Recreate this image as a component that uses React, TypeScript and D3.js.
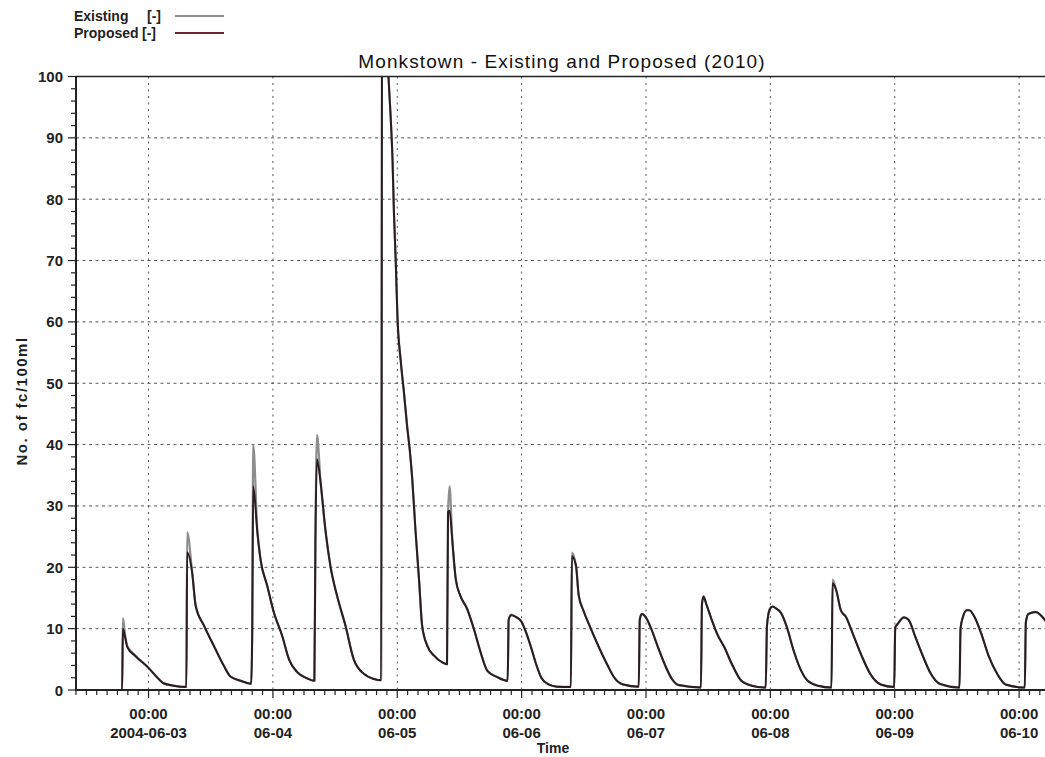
import React from "react";
import * as d3 from "d3";

// ---- data (hours from 2004-06-03 00:00, values in No. of fc/100ml) ----
const hours = [
  -14, -5.1,
  -4.95, -4.5, -4.1, -2.5, 0, 1.4, 2.9, 4.8, 7.3,
  7.45, 8.4, 9.1, 10.7, 12.6, 14.5, 15.8, 17.8, 19.8,
  20.0, 20.2, 21.0, 21.6, 22.9, 24.2, 25.8, 27.1, 28.7, 30.6, 32.0,
  32.2, 32.5, 33.2, 34.2, 35.1, 36.4, 38.0, 39.6, 41.6, 43.5, 44.9,
  45.1, 46.3, 46.75, 47.1, 47.35, 47.7, 48.05, 48.65, 49.3, 49.9, 50.4, 50.9, 51.5, 52.2, 52.8, 53.8, 55.1, 56.7, 57.6,
  57.8, 58.1, 58.6, 59.3, 60.2, 61.5, 62.8, 64.1, 65.4, 67.3, 69.3,
  69.5, 70.0, 71.1, 72.0, 72.8, 73.8, 74.8, 75.8, 77.2, 78.8, 81.5,
  81.7, 82.5, 83.0, 83.9, 85.2, 86.9, 88.6, 89.9, 91.6, 94.6,
  94.8, 95.2, 96.0, 97.0, 98.3, 99.7, 101.0, 102.3, 106.6,
  106.8, 107.1, 107.6, 108.7, 109.7, 111.1, 112.7, 114.4, 116.4, 119.1,
  119.35, 119.9, 120.4, 121.1, 122.1, 123.2, 124.5, 125.8, 127.2, 129.2, 131.8,
  132.0, 132.7, 133.6, 134.6, 135.9, 137.6, 139.3, 141.3, 143.9,
  144.1, 144.6, 145.8, 146.7, 148.0, 149.4, 151.0, 152.7, 156.5,
  156.7, 157.2, 157.9, 158.4, 159.4, 160.7, 162.1, 163.8, 165.4, 169.1,
  169.3, 169.8, 171.2, 172.5, 173.5,
];

const proposed = [
  0, 0,
  10.0, 8.5, 7.0, 5.5, 3.6, 2.3, 1.1, 0.7, 0.5,
  22.4, 19.2, 13.7, 10.5, 7.2, 4.0, 2.2, 1.5, 1.0,
  8.8, 33.2, 25.7, 21.3, 17.0, 12.6, 8.8, 5.0, 2.9, 1.9, 1.5,
  24.0, 37.6, 33.8, 25.6, 20.2, 15.3, 10.5, 5.0, 2.6, 1.8, 1.6,
  130, 100, 93.0, 86.0, 78.0, 70.0, 60.5, 53.8, 48.4, 43.0, 39.2, 34.3, 26.2, 18.0, 10.5, 7.2, 5.6, 4.5, 4.2,
  29.0, 29.2, 24.6, 18.0, 15.3, 13.2, 9.9, 6.1, 3.1, 2.1, 1.5,
  11.5, 12.2, 11.8, 11.1, 9.5, 7.0, 4.2, 2.0, 0.9, 0.55, 0.5,
  21.8, 20.2, 15.5, 13.0, 10.3, 7.0, 4.0, 2.0, 0.9, 0.55,
  11.5, 12.4, 11.8, 10.0, 7.0, 4.0, 1.8, 0.8, 0.4,
  14.0, 15.2, 14.1, 11.4, 9.2, 7.0, 4.0, 1.5, 0.7, 0.4,
  10.5, 13.2, 13.6, 13.3, 12.5, 10.2, 6.4, 3.4, 1.5, 0.7, 0.4,
  17.4, 16.3, 13.0, 11.9, 9.2, 5.6, 2.6, 0.9, 0.5,
  10.2, 10.8, 11.8, 11.4, 8.6, 5.6, 2.6, 1.0, 0.4,
  10.0, 12.0, 13.0, 13.0, 11.9, 9.2, 5.6, 2.6, 0.9, 0.4,
  11.0, 12.4, 12.7, 11.9, 10.8,
];

const existing = [
  0, 0,
  11.7, 8.8, 7.2, 5.6, 3.6, 2.3, 1.1, 0.7, 0.5,
  25.7, 19.4, 13.8, 10.5, 7.2, 4.0, 2.2, 1.5, 1.0,
  8.8, 40.0, 26.0, 21.4, 17.0, 12.6, 8.8, 5.0, 2.9, 1.9, 1.5,
  24.0, 41.6, 34.0, 25.6, 20.2, 15.3, 10.5, 5.0, 2.6, 1.8, 1.6,
  130, 100, 93.0, 86.0, 78.0, 70.0, 60.5, 53.8, 48.4, 43.0, 39.2, 34.3, 26.2, 18.0, 10.5, 7.2, 5.6, 4.5, 4.2,
  29.0, 33.2, 24.8, 18.0, 15.3, 13.2, 9.9, 6.1, 3.1, 2.1, 1.5,
  11.5, 12.3, 11.8, 11.1, 9.5, 7.0, 4.2, 2.0, 0.9, 0.55, 0.5,
  22.4, 20.2, 15.5, 13.0, 10.3, 7.0, 4.0, 2.0, 0.9, 0.55,
  11.5, 12.4, 11.8, 10.0, 7.0, 4.0, 1.8, 0.8, 0.4,
  14.0, 15.3, 14.1, 11.4, 9.2, 7.0, 4.0, 1.5, 0.7, 0.4,
  10.5, 13.2, 13.6, 13.3, 12.5, 10.2, 6.4, 3.4, 1.5, 0.7, 0.4,
  18.0, 16.3, 13.0, 11.9, 9.2, 5.6, 2.6, 0.9, 0.5,
  10.2, 10.8, 11.9, 11.4, 8.6, 5.6, 2.6, 1.0, 0.4,
  10.0, 12.0, 13.0, 13.0, 11.9, 9.2, 5.6, 2.6, 0.9, 0.4,
  11.0, 12.4, 12.7, 11.9, 10.8,
];

const yTicks = [0, 10, 20, 30, 40, 50, 60, 70, 80, 90, 100];
const seriesNames = ["Existing", "Proposed"];
const titleText = "Monkstown - Existing and Proposed (2010)";
const yTitle = "No. of fc/100ml";
const xTitle = "Time";
const startHour = -14;
const endHour = 173;
const baseDate = Date.UTC(2004, 5, 3, 0, 0, 0);

const W = 1045;
const H = 757;
const M = { left: 76, right: 1045, top: 76.5, bottom: 690 };

const FONT = "Arial, 'Liberation Sans', Helvetica, sans-serif";
const EX_COLOR = "#8d8d8d";
const PR_COLOR = "#2a1d20";
const PR_LEGEND = "#6b2633";

const toDate = (h: number) => new Date(baseDate + h * 3600 * 1000);

export default function App() {
  const x = d3.scaleUtc().domain([toDate(startHour), toDate(endHour)]).range([M.left, M.right]);
  const y = d3.scaleLinear().domain([0, 100]).range([M.bottom, M.top]);

  const dayTicks = d3.utcDay.range(toDate(startHour), toDate(endHour));
  const minorTicks = d3.utcHour.every(2)!.range(toDate(startHour), toDate(endHour));
  const yMinor = d3.range(0, 101, 2);
  const fmtFirst = d3.utcFormat("%Y-%m-%d");
  const fmtRest = d3.utcFormat("%m-%d");
  const fmtTime = d3.utcFormat("%H:%M");

  const line = d3
    .line<number>()
    .x((_, i) => x(toDate(hours[i])))
    .y((d) => y(d))
    .curve(d3.curveMonotoneX);

  return (
    <svg width={W} height={H} style={{ position: "absolute", left: 0, top: 0, background: "#fff" }}>
      <defs>
        <clipPath id="plot">
          <rect x={M.left} y={M.top} width={M.right - M.left} height={M.bottom - M.top} />
        </clipPath>
      </defs>
      <rect x={0} y={0} width={W} height={H} fill="#fff" />

      {/* legend */}
      <g fontFamily={FONT} fontWeight="bold" fontSize={14} fill="#222">
        <text x={74} y={21}>{seriesNames[0]}</text>
        <text x={147} y={21}>[-]</text>
        <line x1={175} x2={224} y1={16} y2={16} stroke={EX_COLOR} strokeWidth={2} />
        <text x={74} y={38}>{seriesNames[1]}</text>
        <text x={142} y={38}>[-]</text>
        <line x1={175} x2={224} y1={33} y2={33} stroke={PR_LEGEND} strokeWidth={2} />
      </g>

      {/* title */}
      <text x={562} y={68} textAnchor="middle" fontFamily={FONT} fontSize={19} letterSpacing={1.1} fill="#111">
        {titleText}
      </text>

      {/* grid */}
      <g stroke="#555" strokeWidth={1}>
        {yTicks.filter((v) => v > 0 && v < 100).map((v) => (
          <line key={"gy" + v} x1={M.left} x2={M.right} y1={y(v)} y2={y(v)} strokeDasharray="3,3.5" />
        ))}
        {dayTicks.map((d, i) => (
          <line key={"gx" + i} x1={x(d)} x2={x(d)} y1={M.top} y2={M.bottom} strokeDasharray="2,4.5" />
        ))}
      </g>

      {/* series */}
      <g clipPath="url(#plot)" fill="none" strokeLinejoin="round">
        <path d={line(existing) || ""} stroke={EX_COLOR} strokeWidth={2.2} />
        <path d={line(proposed) || ""} stroke={PR_COLOR} strokeWidth={2} />
      </g>

      {/* frame top */}
      <line x1={M.left} x2={M.right} y1={M.top} y2={M.top} stroke="#222" strokeWidth={1.5} />

      {/* y axis */}
      <g stroke="#222">
        <line x1={M.left} x2={M.left} y1={M.top} y2={M.bottom + 1} strokeWidth={2} />
        {yMinor.map((v) => (
          <line key={"ym" + v} x1={v % 10 === 0 ? M.left - 8 : M.left - 5} x2={M.left} y1={y(v)} y2={y(v)} strokeWidth={1.2} />
        ))}
      </g>
      <g fontFamily={FONT} fontWeight="bold" fontSize={15} fill="#222" textAnchor="end">
        {yTicks.map((v) => (
          <text key={"yl" + v} x={63} y={y(v) + 5.5}>{v}</text>
        ))}
      </g>
      <text
        transform={`translate(27, 401) rotate(-90)`}
        textAnchor="middle"
        fontFamily={FONT}
        fontWeight="bold"
        fontSize={15}
        letterSpacing={1.5}
        fill="#222"
      >
        {yTitle}
      </text>

      {/* x axis */}
      <g stroke="#222">
        <line x1={M.left} x2={M.right} y1={M.bottom} y2={M.bottom} strokeWidth={2} />
        {minorTicks.map((d, i) => (
          <line key={"xm" + i} x1={x(d)} x2={x(d)} y1={M.bottom} y2={M.bottom + (d.getUTCHours() === 0 ? 8 : 5)} strokeWidth={1.2} />
        ))}
      </g>
      <g fontFamily={FONT} fontWeight="bold" fontSize={15} fill="#222" textAnchor="middle">
        {dayTicks.map((d, i) => (
          <g key={"xl" + i}>
            <text x={x(d)} y={719}>{fmtTime(d)}</text>
            <text x={x(d)} y={738}>{i === 0 ? fmtFirst(d) : fmtRest(d)}</text>
          </g>
        ))}
      </g>
      <text x={553} y={753} textAnchor="middle" fontFamily={FONT} fontWeight="bold" fontSize={14} fill="#222">
        {xTitle}
      </text>
    </svg>
  );
}
